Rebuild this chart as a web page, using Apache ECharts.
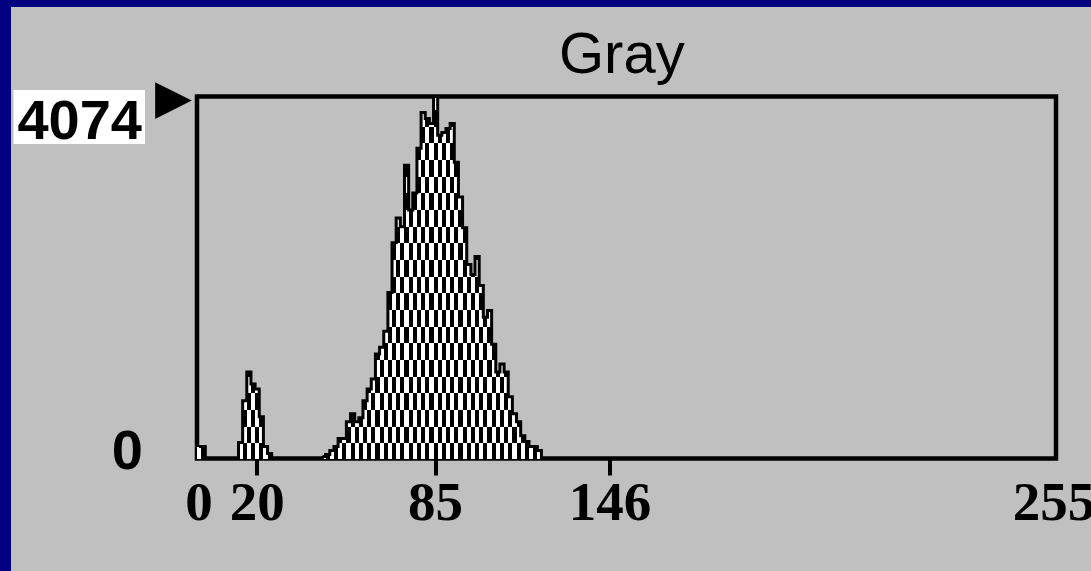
<!DOCTYPE html>
<html>
<head>
<meta charset="utf-8">
<script src="https://cdn.jsdelivr.net/npm/echarts@6/dist/echarts.min.js"></script>
<style>
  html, body { margin: 0; padding: 0; width: 1091px; height: 571px; background: #000080; overflow: hidden; }
  #chart { position: absolute; left: 11px; top: 7px; width: 1080px; height: 564px; }
</style>
</head>
<body>
<div id="chart"></div>
<script>
// ---- data (one value per histogram column) ----
const counts = [
  134, 134, 0, 0, 0, 0, 0, 0, 0, 0,
  179, 649, 974, 839, 783, 470, 134, 56, 0, 0,
  0, 0, 0, 0, 0, 0, 0, 0, 0, 0,
  22, 45, 90, 134, 224, 224, 414, 504, 414, 459,
  649, 783, 895, 1175, 1253, 1432, 1869, 2428, 2708, 2607,
  3301, 2798, 2988, 3491, 3894, 3827, 3771, 4074, 3637, 3670,
  3715, 3771, 3335, 2943, 2596, 2182, 2070, 2272, 1947, 1589,
  1667, 1287, 974, 1063, 974, 694, 504, 414, 257, 190,
  134, 134, 90, 0, 0, 0, 0, 0, 0, 0,
  0, 0, 0, 0, 0, 0, 0, 0, 0, 0,
  0, 0, 0, 0, 0, 0, 0, 0, 0, 0,
  0, 0, 0, 0, 0, 0, 0, 0, 0, 0,
  0, 0, 0, 0, 0, 0, 0, 0, 0, 0,
  0, 0, 0, 0, 0, 0, 0, 0, 0, 0,
  0, 0, 0, 0, 0, 0, 0, 0, 0, 0,
  0, 0, 0, 0, 0, 0, 0, 0, 0, 0,
  0, 0, 0, 0, 0, 0, 0, 0, 0, 0,
  0, 0, 0, 0, 0, 0, 0, 0, 0, 0,
  0, 0, 0, 0, 0, 0, 0, 0, 0, 0,
  0, 0, 0, 0, 0, 0, 0, 0, 0, 0,
  0, 0, 0, 0, 0, 0, 0
];
const categories = counts.map((_, i) => String(i));
const tickCols = [0, 14, 57, 99, 206];
const tickLabels = ['0', '20', '85', '146', '255'];
const markedCols = [14, 57, 99];
const yMax = 4074;
const yTickLabels = ['0', '4074'];
const titleText = 'Gray';

// ---- checkerboard-filled bars, geometry from the axes (api.coord / api.size) ----
const ROW = 16.667, ROW0 = 3;
function renderBar(params, api) {
  const idx = api.value(0), v = api.value(1);
  if (!v) return { type: 'group', children: [] };
  const top = api.coord([idx, v]);
  const base = api.coord([idx, 0]);
  const w = api.size([1, 0])[0];
  const x0 = Math.round(top[0] - w / 2), x1 = Math.round(top[0] + w / 2);
  const yT = Math.round(top[1]), yB = Math.round(base[1]);
  const children = [{ type: 'rect', shape: { x: x0, y: yT, width: x1 - x0, height: yB - yT }, style: { fill: '#ffffff' } }];
  const kS = Math.floor((yT - ROW0) / ROW), kE = Math.floor((yB - ROW0) / ROW);
  for (let k = kS; k <= kE; k++) {
    if ((((idx + k) % 2) + 2) % 2 !== 1) continue;
    const y0 = Math.max(yT, Math.round(ROW0 + ROW * k)), y1 = Math.min(yB, Math.round(ROW0 + ROW * (k + 1)));
    if (y1 > y0) children.push({ type: 'rect', shape: { x: x0, y: y0, width: x1 - x0, height: y1 - y0 }, style: { fill: '#000000' } });
  }
  return { type: 'group', children };
}

const chart = echarts.init(document.getElementById('chart'), null, { renderer: 'canvas' });
chart.setOption({
  backgroundColor: '#c0c0c0',
  animation: false,
  title: {
    text: titleText,
    left: 543, top: 16,
    textStyle: { fontFamily: 'Liberation Sans', fontSize: 58, fontWeight: 'normal', color: '#000', lineHeight: 58 }
  },
  grid: {
    left: 186, top: 89.5, width: 859, height: 362,
    containLabel: false, outerBoundsMode: 'none',
    show: true, borderColor: '#000', borderWidth: 4.5, backgroundColor: 'transparent'
  },
  xAxis: {
    type: 'category',
    data: categories,
    boundaryGap: true,
    axisLine: { show: false },
    axisTick: {
      show: true, alignWithLabel: true, length: 17,
      interval: (idx) => markedCols.indexOf(idx) >= 0,
      lineStyle: { color: '#000', width: 4 }
    },
    axisLabel: {
      interval: (idx) => tickCols.indexOf(idx) >= 0,
      formatter: (val) => { const p = tickCols.indexOf(Number(val)); return p >= 0 ? tickLabels[p] : ''; },
      margin: 20,
      color: '#000', fontFamily: 'Liberation Serif', fontWeight: 'bold', fontSize: 55, lineHeight: 55
    },
    splitLine: { show: false }
  },
  yAxis: [{
    type: 'value', min: 0, max: yMax, interval: yMax,
    axisLine: { show: false }, axisTick: { show: false }, splitLine: { show: false },
    axisLabel: {
      margin: 52,
      formatter: (v) => v === yMax ? '{gap| }\n{v|' + yTickLabels[1] + '}' : '{v0|' + yTickLabels[0] + '}\n{gap0| }',
      rich: {
        gap: { lineHeight: 41, height: 41, fontSize: 10 },
        v: { fontFamily: 'Liberation Sans', fontWeight: 'bold', fontSize: 56, color: '#000',
             lineHeight: 40, height: 40, backgroundColor: '#ffffff', padding: [14, 3, 0, 4] },
        v0: { fontFamily: 'Liberation Sans', fontWeight: 'bold', fontSize: 56, color: '#000',
              lineHeight: 40, height: 40, padding: [0, 2, 0, 0] },
        gap0: { lineHeight: 9, height: 9, fontSize: 8 }
      }
    }
  }, {
    type: 'value', min: 0, max: yMax, interval: yMax, position: 'left',
    axisLine: { show: false }, axisTick: { show: false }, splitLine: { show: false },
    axisLabel: {
      margin: 5,
      formatter: (v) => v === yMax ? '{g| }\n{t|\u25B6}' : '',
      rich: {
        g: { lineHeight: 9, height: 9, fontSize: 8 },
        t: { color: '#000', fontFamily: 'DejaVu Sans', fontSize: 48, lineHeight: 48, height: 48 }
      }
    }
  }],
  series: [{
    type: 'custom',
    renderItem: renderBar,
    data: counts.map((v, i) => [i, v]),
    encode: { x: 0, y: 1 },
    z: 2
  }, {
    type: 'line',
    data: counts,
    step: 'middle',
    showSymbol: false,
    symbol: 'none',
    lineStyle: { color: '#000', width: 3, join: 'miter', cap: 'butt' },
    z: 3
  }]
});
</script>
</body>
</html>
